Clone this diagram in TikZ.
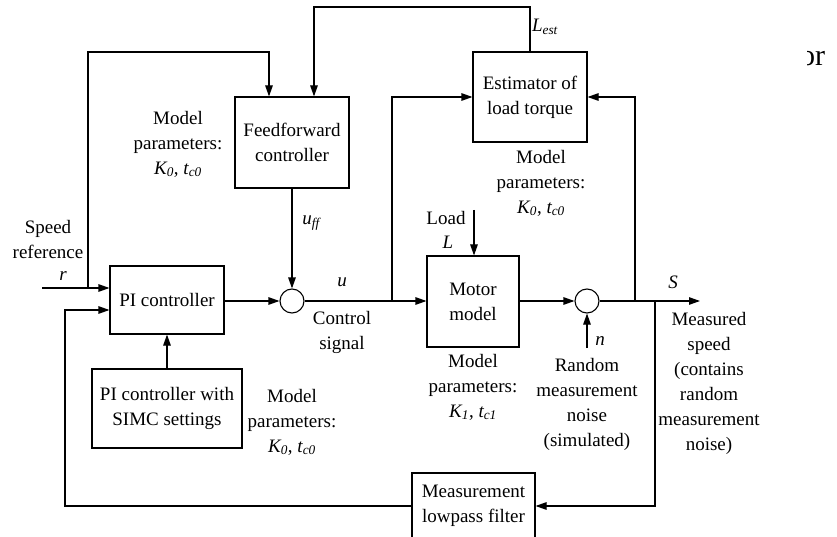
\documentclass[tikz,border=0pt]{standalone}
\usepackage{fontspec}
\setmainfont{Liberation Serif}
\usetikzlibrary{arrows.meta,positioning,calc}

\begin{document}
\begin{tikzpicture}[
    x=1pt, y=-1pt,
    line width=1.1pt,
    blk/.style={draw, line width=1.1pt, minimum width=#1, align=center, inner sep=0pt,
        font=\fontsize{19}{25}\selectfont},
    sumnode/.style={draw, circle, minimum size=24pt, inner sep=0pt},
    lbl/.style={align=center, inner sep=0pt, font=\fontsize{19}{25}\selectfont},
    arr/.style={-{Triangle[length=11pt, width=7.5pt]}}
]
\useasboundingbox (0,0) rectangle (837,537);

% blocks
\node[blk=114pt, minimum height=91pt] (ff) at (292,142.5) {Feedforward\\controller};
\node[blk=114pt, minimum height=90pt] (est) at (530,97) {Estimator of\\load torque};
\node[blk=114pt, minimum height=68pt] (pi) at (167,300) {PI controller};
\node[blk=150pt, minimum height=79pt] (simc) at (167,408.5) {PI controller with\\SIMC settings};
\node[blk=92pt, minimum height=91pt] (mot) at (473,301.5) {Motor\\model};
\node[blk=123pt, minimum height=66pt] (filt) at (473.5,506) {Measurement\\lowpass filter};
\node[sumnode] (s1) at (292,301) {};
\node[sumnode] (s2) at (587,301) {};

% free ends and branch points
\coordinate (r0) at (42,288);
\coordinate (rb) at (88,288);
\coordinate (ffin1) at (269,52);
\coordinate (ffin2) at (314,7);
\coordinate (ub) at (392,301);
\coordinate (ld) at (474,210);
\coordinate (nz) at (587,348);
\coordinate (sout) at (700,301);
\coordinate (sb1) at (635,301);
\coordinate (sb2) at (655,301);
\coordinate (fb) at (65,310);

% connectors
\draw[arr] (r0) -- (pi.west |- r0);
\draw[arr] (rb) |- (ffin1) -- (ffin1 |- ff.north);
\draw[arr] (est.north) |- (ffin2) -- (ffin2 |- ff.north);
\draw[arr] (ff.south) -- (s1.north);
\draw[arr] (pi.east |- s1) -- (s1.west);
\draw[arr] (simc.north) -- (pi.south);
\draw[arr] (s1.east) -- (mot.west |- s1);
\draw[arr] (ub) |- (est.west);
\draw[arr] (ld) -- (ld |- mot.north);
\draw[arr] (mot.east |- s2) -- (s2.west);
\draw[arr] (nz) -- (s2.south);
\draw[arr] (s2.east) -- (sout);
\draw[arr] (sb1) |- (est.east);
\draw[arr] (sb2) |- (filt.east);
\draw[arr] (filt.west) -| (fb) -- (pi.west |- fb);

% labels
\node[lbl] (spd) at (48,240) {Speed\\reference};
\node[lbl] (rl) at (63,276) {\textit{r}};
\node[lbl] (ffpar) at (178,144) {Model\\parameters:\\\textit{K\textsubscript{0}}, \textit{t\textsubscript{c0}}};
\node[lbl] (lest) at (545,27) {\textit{L\textsubscript{est}}};
\node[lbl] (uffl) at (311,223) {\textit{u\textsubscript{ff}}};
\node[lbl] (ul) at (342,282) {\textit{u}};
\node[lbl] (ctrl) at (342,332) {Control\\signal};
\node[lbl] (estpar) at (541,183) {Model\\parameters:\\\textit{K\textsubscript{0}}, \textit{t\textsubscript{c0}}};
\node[lbl] (load) at (446,218) {Load};
\node[lbl] (ll) at (448,242) {\textit{L}};
\node[lbl] (motpar) at (473,387) {Model\\parameters:\\\textit{K\textsubscript{1}}, \textit{t\textsubscript{c1}}};
\node[lbl] (simcpar) at (292,422) {Model\\parameters:\\\textit{K\textsubscript{0}}, \textit{t\textsubscript{c0}}};
\node[lbl] (nl) at (600,341) {\textit{n}};
\node[lbl] (noise) at (587,404) {Random\\measurement\\noise\\(simulated)};
\node[lbl] (sl) at (673,282) {\textit{S}};
\node[lbl] (meas) at (709,383.5) {Measured\\speed\\(contains\\random\\measurement\\noise)};
\begin{scope}
\clip (807,40) rectangle (837,80);
\node[lbl, font=\fontsize{30}{36}\selectfont] (orl) at (812.5,59) {or};
\end{scope}
\end{tikzpicture}
\end{document}
